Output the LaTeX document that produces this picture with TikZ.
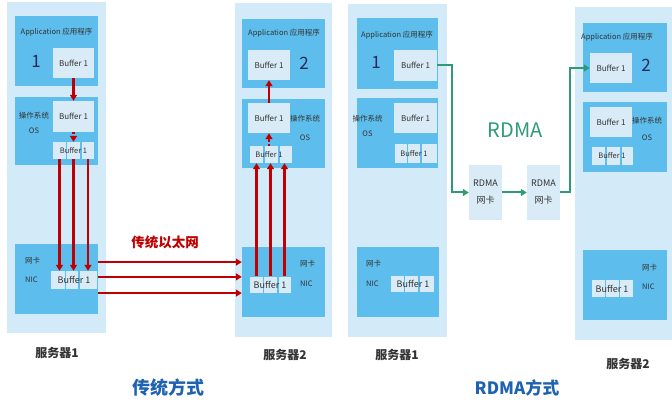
\documentclass[tikz,border=0pt]{standalone}
\usepackage{fontspec}
\setmainfont{Noto Sans CJK SC}
\usetikzlibrary{arrows.meta,calc}
\definecolor{light}{HTML}{D3EAF8}
\definecolor{mid}{HTML}{5DBDEC}
\definecolor{pale}{HTML}{D9EBF6}
\definecolor{wred}{HTML}{C00000}
\definecolor{wgreen}{HTML}{2E9A78}
\definecolor{wblue}{HTML}{1F62B0}
\definecolor{txtc}{HTML}{333333}

\begin{document}
\begin{tikzpicture}[x=1pt,y=-1pt]
\tikzstyle{srv}=[rectangle,fill=light,inner sep=0pt]
\tikzstyle{blk}=[rectangle,fill=mid,inner sep=0pt]
\tikzstyle{buf}=[rectangle,fill=pale,inner sep=0pt]
\tikzstyle{lbl}=[inner sep=0pt,text=txtc,font=\fontsize{7.5}{9}\selectfont]
\tikzstyle{bufl}=[inner sep=0pt,text=txtc,font=\fontsize{8}{9}\selectfont]
\tikzstyle{nicl}=[inner sep=0pt,text=txtc,font=\fontsize{9}{9}\selectfont]
\tikzstyle{num}=[inner sep=0pt,text=txtc!80!blue,font=\fontsize{17}{17}\selectfont]
\tikzstyle{host}=[inner sep=0pt,text=txtc,font=\fontsize{12}{12}\selectfont\bfseries]
\tikzstyle{redarr}=[draw=wred,line width=2.2pt,-{Triangle[length=6pt,width=7pt]}]
\tikzstyle{grnarr}=[draw=wgreen,line width=2pt,-{Triangle[length=6pt,width=7pt]}]
\useasboundingbox (0,0) rectangle (672,406);

% traditional, server 1
\node [srv,minimum width=99pt,minimum height=331pt] (s1) at (56.5,167.5) {};
\node [blk,minimum width=83pt,minimum height=70pt] (app1) at (56.5,51) {};
\node [blk,minimum width=83pt,minimum height=68pt] (os1) at (56.5,131) {};
\node [blk,minimum width=83pt,minimum height=70pt] (nic1) at (56.5,279) {};
\node [buf,minimum width=41pt,minimum height=30pt] (ab1) at (73.5,63) {};
\node [buf,minimum width=41pt,minimum height=31pt] (ob1) at (73.5,116.5) {};
\node [buf,minimum width=13pt,minimum height=17pt] (sb1a) at (59.5,150.5) {};
\node [buf,minimum width=13pt,minimum height=17pt] (sb1b) at (73.5,150.5) {};
\node [buf,minimum width=12pt,minimum height=17pt] (sb1c) at (88,150.5) {};
\node [buf,minimum width=14pt,minimum height=18pt] (nb1a) at (58,280) {};
\node [buf,minimum width=12pt,minimum height=18pt] (nb1b) at (72,280) {};
\node [buf,minimum width=17pt,minimum height=18pt] (nb1c) at (88.5,280) {};
\node [lbl] (app1t) at (56.5,32) {Application 应用程序};
\node [num] (app1n) at (36,61) {1};
\node [bufl] (ab1t) at (ab1) {Buffer 1};
\node [bufl] (ob1t) at (ob1) {Buffer 1};
\node [lbl] (sb1t) at (sb1b) {Buffer 1};
\node [nicl] (nb1t) at (74,280) {Buffer 1};
\node [lbl,align=center,font=\fontsize{7.5}{15}\selectfont] (os1t) at (34,122.5) {操作系统\\OS};
\node [lbl,align=left,anchor=west,font=\fontsize{7.5}{19}\selectfont] (nic1t) at (25,269.5) {网卡\\NIC};
\node [host] (h1) at (57,353) {服务器1};

% traditional, server 2
\node [srv,minimum width=97pt,minimum height=334pt] (s2) at (283.5,170) {};
\node [blk,minimum width=83pt,minimum height=69pt] (app2) at (283.5,53.5) {};
\node [blk,minimum width=83pt,minimum height=69pt] (os2) at (283.5,133.5) {};
\node [blk,minimum width=83pt,minimum height=70pt] (nic2) at (283.5,282) {};
\node [buf,minimum width=42pt,minimum height=30pt] (ab2) at (269,65) {};
\node [buf,minimum width=42pt,minimum height=30pt] (ob2) at (269,118) {};
\node [buf,minimum width=13pt,minimum height=17pt] (sb2a) at (256.5,154.5) {};
\node [buf,minimum width=13pt,minimum height=17pt] (sb2b) at (271,154.5) {};
\node [buf,minimum width=12pt,minimum height=17pt] (sb2c) at (285.5,154.5) {};
\node [buf,minimum width=13pt,minimum height=16pt] (nb2a) at (256.5,284.5) {};
\node [buf,minimum width=13pt,minimum height=16pt] (nb2b) at (270.5,284.5) {};
\node [buf,minimum width=12pt,minimum height=16pt] (nb2c) at (284.5,284.5) {};
\node [lbl] (app2t) at (284,33) {Application 应用程序};
\node [num] (app2n) at (304,63) {2};
\node [bufl] (ab2t) at (ab2) {Buffer 1};
\node [bufl] (ob2t) at (ob2) {Buffer 1};
\node [lbl] (sb2t) at (269,154.5) {Buffer 1};
\node [nicl] (nb2t) at (270,284.5) {Buffer 1};
\node [lbl,align=center,font=\fontsize{7.5}{19}\selectfont] (os2t) at (305,127.5) {操作系统\\OS};
\node [lbl,align=left,anchor=west,font=\fontsize{7.5}{20}\selectfont] (nic2t) at (300,273) {网卡\\NIC};
\node [host] (h2) at (285,355) {服务器2};

% RDMA, server 1
\node [srv,minimum width=99pt,minimum height=333pt] (s3) at (397.5,170.5) {};
\node [blk,minimum width=81pt,minimum height=71pt] (app3) at (397.5,53.5) {};
\node [blk,minimum width=81pt,minimum height=70pt] (os3) at (397.5,133) {};
\node [blk,minimum width=82pt,minimum height=70pt] (nic3) at (398,282) {};
\node [buf,minimum width=43pt,minimum height=31pt] (ab3) at (415.5,65.5) {};
\node [buf,minimum width=43pt,minimum height=30pt] (ob3) at (415.5,118) {};
\node [buf,minimum width=12pt,minimum height=19pt] (sb3a) at (401,153.5) {};
\node [buf,minimum width=12pt,minimum height=19pt] (sb3b) at (414,153.5) {};
\node [buf,minimum width=15pt,minimum height=19pt] (sb3c) at (429.5,153.5) {};
\node [buf,minimum width=13pt,minimum height=16pt] (nb3a) at (397.5,284) {};
\node [buf,minimum width=13pt,minimum height=16pt] (nb3b) at (411.5,284) {};
\node [buf,minimum width=14pt,minimum height=16pt] (nb3c) at (427,284) {};
\node [lbl] (app3t) at (397,35) {Application 应用程序};
\node [num] (app3n) at (376,62) {1};
\node [bufl] (ab3t) at (ab3) {Buffer 1};
\node [bufl] (ob3t) at (ob3) {Buffer 1};
\node [lbl] (sb3t) at (414,153.5) {Buffer 1};
\node [nicl] (nb3t) at (413,284) {Buffer 1};
\node [lbl,align=center,font=\fontsize{7.5}{15}\selectfont] (os3t) at (367.5,125.5) {操作系统\\OS};
\node [lbl,align=left,anchor=west,font=\fontsize{7.5}{20}\selectfont] (nic3t) at (366,273) {网卡\\NIC};
\node [host] (h3) at (397,355) {服务器1};

% RDMA cards
\node [buf,minimum width=33pt,minimum height=55pt] (r1) at (485.5,192.5) {};
\node [buf,minimum width=33pt,minimum height=55pt] (r2) at (543.5,192.5) {};
\node [lbl,align=center,font=\fontsize{9}{17}\selectfont] (r1t) at (r1) {RDMA\\网卡};
\node [lbl,align=center,font=\fontsize{9}{17}\selectfont] (r2t) at (r2) {RDMA\\网卡};
\node [inner sep=0pt,text=wgreen,font=\fontsize{20}{20}\selectfont] (rdma) at (515,130) {RDMA};

% RDMA, server 2
\node [srv,minimum width=97pt,minimum height=333pt] (s4) at (623.5,173.5) {};
\node [blk,minimum width=84pt,minimum height=69pt] (app4) at (625,57.5) {};
\node [blk,minimum width=84pt,minimum height=70pt] (os4) at (625,137) {};
\node [blk,minimum width=84pt,minimum height=70pt] (nic4) at (625,285) {};
\node [buf,minimum width=42pt,minimum height=30pt] (ab4) at (611,68) {};
\node [buf,minimum width=42pt,minimum height=30pt] (ob4) at (611,122) {};
\node [buf,minimum width=13pt,minimum height=18pt] (sb4a) at (598.5,156) {};
\node [buf,minimum width=13pt,minimum height=18pt] (sb4b) at (613.5,156) {};
\node [buf,minimum width=11pt,minimum height=18pt] (sb4c) at (627.5,156) {};
\node [buf,minimum width=13pt,minimum height=17pt] (nb4a) at (598.5,288.5) {};
\node [buf,minimum width=13pt,minimum height=17pt] (nb4b) at (612.5,288.5) {};
\node [buf,minimum width=13pt,minimum height=17pt] (nb4c) at (626.5,288.5) {};
\node [lbl] (app4t) at (617,37) {Application 应用程序};
\node [num] (app4n) at (646,65) {2};
\node [bufl] (ab4t) at (ab4) {Buffer 1};
\node [bufl] (ob4t) at (ob4) {Buffer 1};
\node [lbl] (sb4t) at (612,156) {Buffer 1};
\node [nicl] (nb4t) at (612,288.5) {Buffer 1};
\node [lbl,align=center,font=\fontsize{7.5}{17}\selectfont] (os4t) at (647,128.5) {操作系统\\OS};
\node [lbl,align=left,anchor=west,font=\fontsize{7.5}{19}\selectfont] (nic4t) at (642,276.5) {网卡\\NIC};
\node [host] (h4) at (628,364) {服务器2};

% titles
\node [inner sep=0pt,text=wred,font=\fontsize{13.5}{13.5}\selectfont\bfseries] (eth) at (165,242) {传统以太网};
\node [inner sep=0pt,text=wblue,font=\fontsize{18}{18}\selectfont\bfseries] (way1) at (168,388) {传统方式};
\node [inner sep=0pt,text=wblue,font=\fontsize{17}{17}\selectfont\bfseries] (way2) at (517,388) {RDMA方式};

% traditional data path
\coordinate (e1) at ($(nic1.north east)!0.26!(nic1.south east)$);
\coordinate (e2) at ($(nic1.north east)!0.47!(nic1.south east)$);
\coordinate (e3) at ($(nic1.north east)!0.70!(nic1.south east)$);
\draw [redarr] (ab1) -- (ob1);
\draw [redarr,dotted] (ob1.south) -- (sb1b.north);
\draw [redarr] (sb1a.south) -- (sb1a.south |- nb1a.north);
\draw [redarr] (sb1b.south) -- (sb1b.south |- nb1b.north);
\draw [redarr] (sb1c.south) -- (sb1c.south |- nb1c.north);
\draw [redarr] (e1) -- (e1 -| nic2.west);
\draw [redarr] (e2) -- (e2 -| nic2.west);
\draw [redarr] (e3) -- (e3 -| nic2.west);
\draw [redarr] (nb2a.north) -- (nb2a.north |- sb2a.south);
\draw [redarr] (nb2b.north) -- (nb2b.north |- sb2b.south);
\draw [redarr] (nb2c.north) -- (nb2c.north |- sb2c.south);
\draw [redarr,dotted] (sb2b.north -| ob2) -- (ob2.south);
\draw [redarr] (ob2) -- (ab2);

% RDMA data path
\draw [grnarr] (ab3.east) -- ++(15,0) |- (r1.west);
\draw [grnarr] (r1) -- (r2);
\draw [grnarr] (r2.east) -- ++(10,0) |- (ab4.west);
\end{tikzpicture}
\end{document}
